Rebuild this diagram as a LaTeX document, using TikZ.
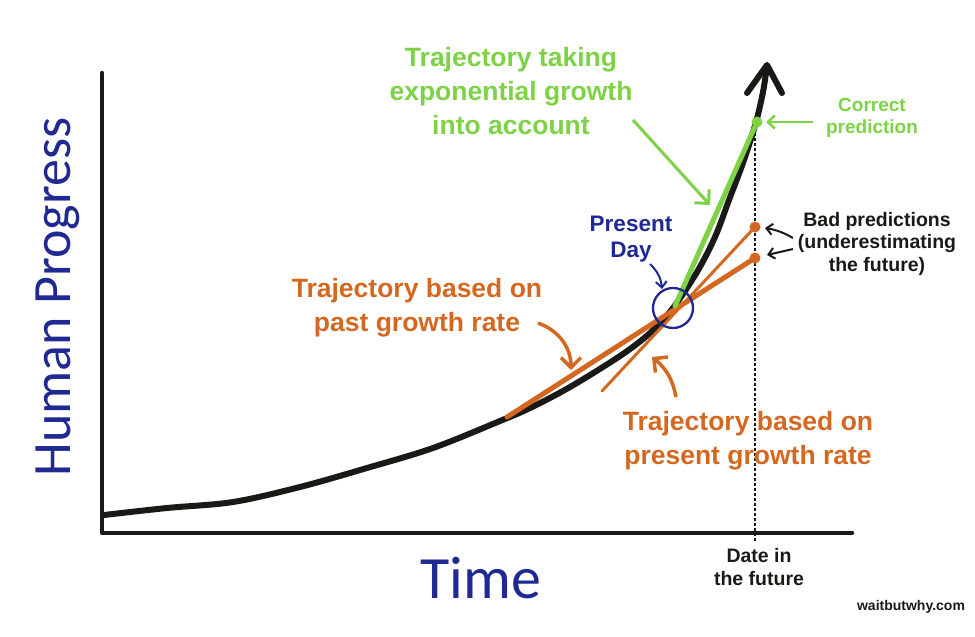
\documentclass[tikz,border=0pt]{standalone}
\usepackage{fontspec}
\setmainfont{Liberation Sans}
\newfontfamily\carlito{Carlito}
\usetikzlibrary{arrows.meta}
\definecolor{ngreen}{RGB}{125,210,70}
\definecolor{norange}{RGB}{212,104,32}
\definecolor{nnavy}{RGB}{32,40,145}
\definecolor{nblack}{RGB}{25,25,22}
\begin{document}
\begin{tikzpicture}[x=1pt,y=-1pt,
  axisline/.style={line width=4.5pt, nblack, line cap=round, line join=round},
  curveline/.style={line width=6pt, nblack, line cap=round, line join=round},
  pastline/.style={line width=5pt, norange, line cap=round},
  presline/.style={line width=3pt, norange, line cap=round},
  expline/.style={line width=5pt, ngreen, line cap=round},
  futline/.style={line width=1.2pt, nblack, dash pattern=on 3pt off 2pt},
  biglbl/.style={font=\bfseries\fontsize{26.5}{34}\selectfont, align=center, inner sep=0},
  smalllbl/.style={font=\bfseries\fontsize{19.5}{22.5}\selectfont, align=center, inner sep=0},
  bigarrow/.style={line width=3.5pt, -{Straight Barb[length=10pt,width=20pt]}},
  medarrow/.style={line width=2.5pt, -{Straight Barb[length=7pt,width=13pt]}},
  smallarrow/.style={line width=2pt, -{Straight Barb[length=6pt,width=11pt]}},
  dot/.style={circle, inner sep=0, minimum size=11pt}
]
\useasboundingbox (0,0) rectangle (975,637);

% axes
\coordinate (ytop) at (102,73);
\coordinate (origin) at (102,533);
\coordinate (xend) at (852,533);
\draw[axisline] (ytop) -- (origin) -- (xend);

% future date dashed line
\coordinate (futtop) at (755,128);
\coordinate (futbot) at (755,541);
\draw[futline] (futtop) -- (futbot);

% main curve
\draw[curveline] plot[smooth, tension=0.55] coordinates {
  (104,515) (167,508) (233,502) (300,487) (367,468) (433,448) (500,421)
  (530,408) (570,387) (620,356) (650,333) (673,308) (697,272) (715,237)
  (729,200) (744,160) (756,122) (763,92) (767,66)};
\coordinate (tipL) at (747,93);
\coordinate (tip) at (767,65);
\coordinate (tipR) at (782,93);
\draw[curveline] (tipL) -- (tip) -- (tipR);

% trajectory lines
\coordinate (pastA) at (507,417);
\coordinate (pastB) at (755,258);
\coordinate (presA) at (602,391);
\coordinate (presB) at (755,227);
\coordinate (expA) at (675,306);
\coordinate (expB) at (757,122);
\draw[pastline] (pastA) -- (pastB);
\draw[presline] (presA) -- (presB);
\draw[expline] (expA) -- (expB);
\node[dot, fill=norange] (pastdot) at (pastB) {};
\node[dot, fill=norange] (presdot) at (presB) {};
\node[dot, fill=ngreen] (expdot) at (expB) {};

% present day circle
\node[circle, draw=nnavy, line width=2.3pt, minimum size=40pt, inner sep=0] (now) at (673,308) {};

% labels
\node[biglbl, text=ngreen, anchor=north] (expText) at (511,47) {Trajectory taking\\exponential growth\\into account};
\node[biglbl, text=norange, anchor=north] (pastText) at (417,278) {Trajectory based on\\past growth rate};
\node[biglbl, text=norange, anchor=north] (presText) at (748,411) {Trajectory based on\\present growth rate};
\node[font=\bfseries\fontsize{22.5}{26}\selectfont, align=center, inner sep=0, text=nnavy, anchor=north] (dayText) at (631,216) {Present\\Day};
\node[smalllbl, text=nblack, anchor=north] (badText) at (877,212) {Bad predictions\\(underestimating\\the future)};
\node[font=\bfseries\fontsize{19}{22}\selectfont, align=center, inner sep=0, text=ngreen, anchor=north] (corText) at (872,98) {Correct\\prediction};
\node[smalllbl, text=nblack, anchor=north, font=\bfseries\fontsize{19.5}{23}\selectfont] (dateText) at (759,548) {Date in\\the future};
\node[font=\bfseries\fontsize{14}{16}\selectfont, inner sep=0, text=nblack] (wbw) at (911,607) {waitbutwhy.com};
\node[font=\carlito\fontsize{60}{70}\selectfont, inner sep=0, text=nnavy, anchor=base] (timeText) at (481,598) {Time};
\node[font=\carlito\fontsize{54}{64}\selectfont, inner sep=0, text=nnavy, anchor=base, rotate=90] (hpText) at (70,297) {Human Progress};

% pointer arrows
\coordinate (expArrS) at (633,120);
\coordinate (expArrE) at (710,205);
\draw[bigarrow, ngreen, line width=3pt] (expArrS) -- (expArrE);

\coordinate (corArrS) at (813,122);
\coordinate (corArrE) at (766,122);
\draw[medarrow, ngreen] (corArrS) -- (corArrE);

\coordinate (badArr1S) at (793,238);
\coordinate (badArr1E) at (765,228);
\coordinate (badArr2S) at (793,249);
\coordinate (badArr2E) at (767,255);
\draw[smallarrow, nblack] (badArr1S) to[bend right=10] (badArr1E);
\draw[smallarrow, nblack] (badArr2S) -- (badArr2E);

\coordinate (dayArrS) at (650,264);
\coordinate (dayArrE) at (662,289);
\draw[smallarrow, nnavy] (dayArrS) to[bend left=20] (dayArrE);

\coordinate (pastArrS) at (538,323);
\coordinate (pastArrE) at (571,370);
\draw[bigarrow, norange] (pastArrS) to[bend left=35] (pastArrE);

\coordinate (presArrS) at (676,397);
\coordinate (presArrE) at (652,357);
\draw[bigarrow, norange] (presArrS) to[bend right=20] (presArrE);
\end{tikzpicture}
\end{document}
